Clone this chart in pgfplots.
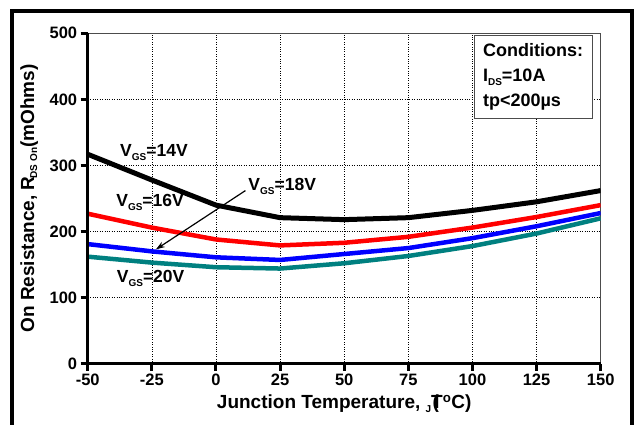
\documentclass[border=0pt]{standalone}
\usepackage{fontspec}
\setmainfont{Liberation Sans}
\usepackage{pgfplots}
\pgfplotsset{compat=1.18}
\usetikzlibrary{arrows.meta}

\definecolor{vteal}{RGB}{0,128,128}
\newcommand{\sub}[2][4pt]{\raisebox{-#1}{\fontsize{10}{10}\selectfont #2}}

\begin{document}
\begin{tikzpicture}[x=1pt,y=1pt]
\useasboundingbox (0,0) rectangle (637,424);
\draw[line width=4pt] (12,-10) -- (12,413) -- (632,413) -- (632,-10);
\begin{axis}[
    at={(87.7pt,60.3pt)}, anchor=south west,
    scale only axis, width=513pt, height=330.4pt,
    xmin=-50, xmax=150, ymin=0, ymax=500,
    xtick={-50,-25,0,25,50,75,100,125,150},
    xticklabels={-50,-25,0,25,50,75,100,125,150},
    ytick={0,100,200,300,400,500},
    yticklabels={0,100,200,300,400,500},
    tick align=outside, xtick pos=bottom, ytick pos=left,
    major tick length=7pt,
    tick style={line width=3pt, black},
    ticklabel style={font=\fontsize{16.5}{16.5}\selectfont\bfseries},
    axis line style={draw=black!70, line width=0.8pt},
    grid=major,
    grid style={dotted, black, line width=0.6pt},
    clip mode=individual,
    xlabel={Junction Temperature, \sub[4pt]{J}\rlap{\kern1.5pt(}T\textsuperscript{o}C)},
    xlabel style={font=\fontsize{19}{19}\selectfont\bfseries,
        at={(axis description cs:0.5,-0.122)}, anchor=center},
    ylabel={On Resistance, R\kern-2pt\sub[3pt]{DS On}(mOhms)},
    ylabel style={font=\fontsize{19}{19}\selectfont\bfseries,
        at={(axis description cs:-0.114,0.5)}, anchor=center},
]
% V_GS = 14 V
\addplot[black, line width=5pt] coordinates {
    (-50,317)(-25,278)(0,240)(25,221)(50,218)(75,221)(100,232)(125,245)(150,262)};
% V_GS = 16 V
\addplot[red, line width=4.5pt] coordinates {
    (-50,227)(-25,206)(0,188)(25,179)(50,183)(75,192)(100,206)(125,222)(150,240)};
% V_GS = 18 V
\addplot[blue, line width=4.5pt] coordinates {
    (-50,181)(-25,170)(0,161)(25,157)(50,166)(75,175)(100,190)(125,208)(150,228)};
% V_GS = 20 V
\addplot[vteal, line width=4.5pt] coordinates {
    (-50,162)(-25,153)(0,146)(25,144)(50,152)(75,163)(100,178)(125,197)(150,220)};

\draw[line width=3pt] (rel axis cs:0,1) -- (rel axis cs:0,0) -- (rel axis cs:1,0);

\node[anchor=base west, inner sep=0, font=\fontsize{17.5}{17.5}\selectfont\bfseries]
    at (axis cs:-37.4,314) {V\sub{GS}=14V};
\node[anchor=base west, inner sep=0, font=\fontsize{17.5}{17.5}\selectfont\bfseries]
    at (axis cs:-38.9,237.5) {V\sub{GS}=16V};
\node[anchor=base west, inner sep=0, font=\fontsize{17.5}{17.5}\selectfont\bfseries]
    at (axis cs:12.6,262.8) {V\sub{GS}=18V};
\node[anchor=base west, inner sep=0, font=\fontsize{17.5}{17.5}\selectfont\bfseries]
    at (axis cs:-38.7,122.5) {V\sub{GS}=20V};
\draw[-{Stealth[length=9pt,width=6pt]}, line width=1.2pt]
    (axis cs:11.5,262) -- (axis cs:-23.4,173);

\node[draw=black!70, line width=0.8pt, fill=white, anchor=north west, align=left,
    inner xsep=9pt, inner ysep=8pt, font=\fontsize{18}{25}\selectfont\bfseries]
    at (rel axis cs:0.7524,0.995) {Conditions:\\I\sub{DS}=10A\\tp<200µs};
\end{axis}
\end{tikzpicture}
\end{document}
